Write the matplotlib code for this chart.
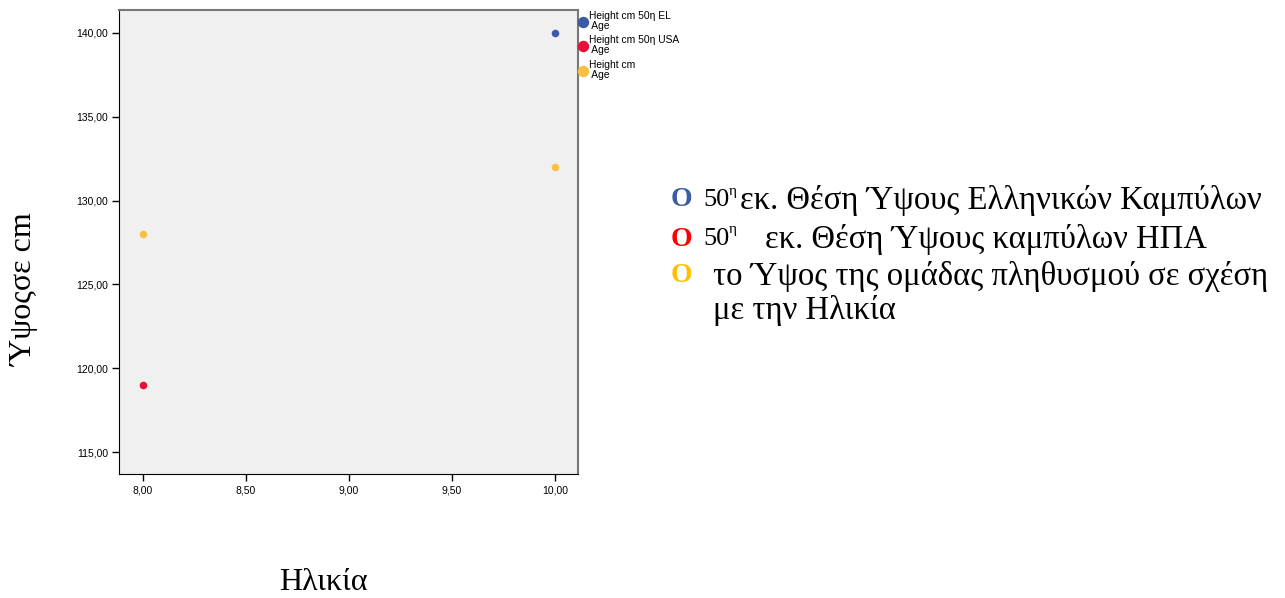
import matplotlib.pyplot as plt
from matplotlib import font_manager as fm
from matplotlib.ticker import FixedLocator, FuncFormatter

# data
ages_el = [10.0]
height_el = [140.0]
ages_usa = [8.0]
height_usa = [119.0]
ages_group = [8.0, 10.0]
height_group = [128.0, 132.0]

series_labels = ['Height cm 50η EL\n Age', 'Height cm 50η USA\n Age', 'Height cm\n Age']
series_colors = ['#3b5ba5', '#e8103a', '#f6c143']
x_ticks = [8.0, 8.5, 9.0, 9.5, 10.0]
y_ticks = [115, 120, 125, 130, 135, 140]

# pick regular Liberation Sans (not the Narrow one)
sans_file = None
for f in fm.fontManager.ttflist:
    if f.name == 'Liberation Sans' and f.style == 'normal' and f.weight in (400, 'normal') \
            and 'Narrow' not in f.fname:
        sans_file = f.fname
        break
if sans_file:
    small = fm.FontProperties(fname=sans_file, size=7.5)
    legfont = fm.FontProperties(fname=sans_file, size=7.4)
else:
    small = fm.FontProperties(family='DejaVu Sans', size=7)
    legfont = fm.FontProperties(family='DejaVu Sans', size=7)

W, H = 1285, 598
fig = plt.figure(figsize=(W / 100, H / 100), dpi=100)


def fx(px):
    return px / W


def fy(py):
    return 1 - py / H


ax = fig.add_axes([fx(119), fy(474), fx(578 - 119), (474 - 10) / H])
ax.set_facecolor('#f0f0f0')

for xs, ys, lab, col in zip([ages_el, ages_usa, ages_group],
                            [height_el, height_usa, height_group],
                            series_labels, series_colors):
    ax.scatter(xs, ys, s=30, color=col, label=lab, zorder=3, linewidths=0)

ax.set_xlim(7.883, 10.112)
ax.set_ylim(113.69, 141.37)
ax.xaxis.set_major_locator(FixedLocator(x_ticks))
ax.yaxis.set_major_locator(FixedLocator(y_ticks))
fmt = FuncFormatter(lambda v, p: f'{v:.2f}'.replace('.', ','))
ax.xaxis.set_major_formatter(fmt)
ax.yaxis.set_major_formatter(fmt)
ax.tick_params(length=5, width=1, color='black', pad=3)
for lbl in ax.get_xticklabels() + ax.get_yticklabels():
    lbl.set_fontproperties(small)
for sp in ['left', 'bottom']:
    ax.spines[sp].set_color('black')
for sp in ['top', 'right']:
    ax.spines[sp].set_color('#777777')
    ax.spines[sp].set_linewidth(1.5)

leg = ax.legend(loc='upper left', bbox_to_anchor=(1.0, 1.0), frameon=False,
                prop=legfont, handletextpad=0.2, labelspacing=0.45,
                borderaxespad=0.0, borderpad=0.05, handlelength=0.8,
                markerscale=1.5)
for t in leg.get_texts():
    t.set_linespacing(1.0)

serif = 'Liberation Serif'
fig.text(fx(25), fy(290), 'Ύψοςσε cm', rotation=90, ha='center', va='center',
         family=serif, fontsize=23)
fig.text(fx(323), fy(583), 'Ηλικία', ha='center', va='center',
         family=serif, fontsize=23)

rows = [
    (200, series_colors[0], True, 'εκ. Θέση Ύψους Ελληνικών Καμπύλων', 740),
    (239, '#ff0000', True, 'εκ. Θέση Ύψους καμπύλων ΗΠΑ', 765),
    (276, '#ffc000', False, 'το Ύψος της ομάδας πληθυσμού σε σχέση', 713),
]
for y, col, sup, txt, x0 in rows:
    fig.text(fx(671), fy(y), 'O', color=col, fontweight='bold', family=serif,
             fontsize=20, va='center', ha='left')
    if sup:
        fig.text(fx(703), fy(y), '50', family=serif, fontsize=19, va='center', ha='left')
        fig.text(fx(729), fy(y - 9), 'η', family=serif, fontsize=11, va='center', ha='left')
    fig.text(fx(x0), fy(y), txt, family=serif, fontsize=23.5, va='center', ha='left')
fig.text(fx(713), fy(311), 'με την Ηλικία', family=serif, fontsize=23.5, va='center', ha='left')

fig.savefig('out.png', dpi=100)
